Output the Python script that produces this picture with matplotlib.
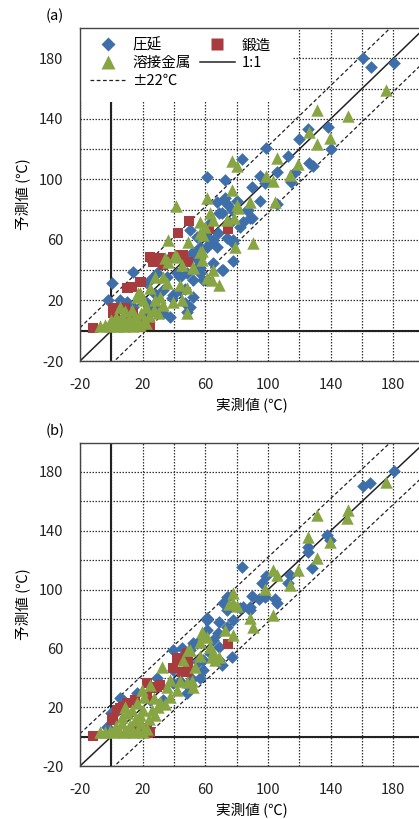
import numpy as np
import matplotlib
matplotlib.use('Agg')
import matplotlib.pyplot as plt
from matplotlib.patches import Rectangle
from matplotlib.lines import Line2D

plt.rcParams['font.family'] = ['Noto Sans CJK JP', 'DejaVu Sans']
plt.rcParams['axes.unicode_minus'] = False

# panel (a) -- 圧延 / 鍛造 / 溶接金属 (measured, predicted)
a_rolled_x = [160.6, 165.7, 180.4, 125.5, 138, 119.8, 140, 99, 113, 126, 128.7, 83.4, 61, 72.5, 95, 98,
              106, 114.6, 89.8, 117, 95, 67.4, 72.5, 74, 77, 80, 86.6, 89.8, 70.6, 63, 84, 50, 54.7, 65,
              74, 77.6, 61, 13.8, 0.4, -2, 5.5, 10, 29, 35.5, 43.8, 52, 56.6, 61, 71, 77.6, 65, 67.4, 52,
              50, 48, 37.4, 33, 26.6, 22.8, 39, 43.8, 33, 22.8, 52, 55, 48, 42, 35.5, 3.6, 7.4, 13.8, 47,
              39.4, 47, 70.6, 75.7, 82, 88.5, 105.7, 87, 69, 68, 61, 63, 56.6, 52, 54.7, 48, 26.6, 58.5,
              56.6, 77.6, 10, 15, 20, 25, 30, 18, 28]
a_rolled_y = [180, 174, 177, 133, 134.6, 127, 120, 121, 115.4, 111, 109, 113.4, 101.5, 99.5, 102, 97.6,
              105, 98, 95, 105, 86, 85, 87.7, 84, 80, 86, 80, 74.5, 77.7, 71, 72, 66.5, 62, 60,
              61, 58, 55, 38.8, 31.5, 20.3, 20.3, 19, 38, 35.5, 35.5, 33.5, 38, 33.5, 40, 46, 44.7, 55, 22,
              15.7, 12.4, 9, 11.7, 15.7, 18, 21.6, 27, 27, 31.5, 52, 46.7, 46.7, 38, 46.7, 15.7, 13.7, 15.7, 18.3,
              23.6, 27.6, 40, 71, 68.5, 74.5, 84, 80, 77.7, 64.5, 62, 58, 55, 51, 42, 38, 35.5, 33.5,
              41.5, 60, 5, 8, 10, 12, 14, 22, 24]
a_forged_x = [49.6, 42.5, 74.5, 62.3, 24.7, 29, 26.6, 39.4, 45.7, 49, 33, 19, 10, 13, 1, 8.7, 2.3, -11.7,
              18.3, 23.4, 17, 5.5, 13.8, 3.6, 10.6, 18.3, 21.5, 24.7, 1, 12, 31, 43.8]
a_forged_y = [72.5, 64.5, 67, 67, 48.7, 46.7, 45.4, 48.7, 50, 45.4, 43.4, 32.2, 28, 29, 15, 15, 10.4, 1.8,
              2.5, 5, 7, 7, 11.7, 15, 28, 32.2, 7, 3.8, 11.7, 9, 48, 50]
a_weld_x = [175, 131, 151, 126, 131, 139.5, 77, 80, 106, 119, 114, 98.7, 103, 77, 61, 88.5, 104.4, 41.3,
            63, 65, 74, 78, 81, 56.6, 60, 36, 49, 58.5, 90.4, 79, 80.2, 56.6, 56.6, 57.8, 52, 45, 36,
            40.6, 35.5, 33, 27.9, 43.8, 48, 24.7, 17, 31, 39.4, 45, 48, 64, 68.7, 61, 65, 57.8, 34, 42,
            52, 18.3, 5.5, 16.4, 20.3,
            -7.2, -4, -1, 2, 4, 6, 8, 10, 12, 14, 16, 18, 20, 22, 0, 3, 7, 11, 15, 9, 13, 19, 24, 27,
            30, 33, 28, 22]
a_weld_y = [159, 145.8, 141.8, 131, 123.3, 127.3, 112, 108.8, 114, 110, 103, 102, 99, 93, 87.6, 85, 85, 82.4,
            77.7, 73, 73, 74.5, 81, 71.8, 68.5, 60, 58.6, 63, 58, 55, 83, 64.5, 52, 46.7, 41.5, 43.4, 45.4,
            50, 31.5, 35.5, 35.5, 30, 28, 28, 25, 22, 19, 20.3, 11.7, 33.5, 30, 34.8, 40, 53, 48, 48.7,
            42, 25, 15.7, 22, 20.3,
            3, 4, 3, 4, 3, 5, 3, 4, 5, 3, 5, 4, 6, 5, 7, 9, 10, 8, 10, 13, 14, 12, 10, 14,
            12, 17, 20, 16]

# panel (b)
b_rolled_x = [180.4, 160.6, 165, 137.6, 139.5, 125.5, 125.5, 128, 83.4, 99, 114, 113, 96, 74.5, 89.8, 94,
              98, 104.4, 106, 84, 88.5, 71.3, 73.8, 74.5, 73.8, 82, 88.5, 61, 69, 77.6, 73.8, 68, 61, 65,
              69, 77, 54.7, 50, 39.4, 45.7, 58.5, 70.6, 61, 63, 52, 45, 58.5, 48, 50, 56.6, 39.4, 29,
              16.4, 5.5, -0.4, 4.3, -2.8, 24.7, 33, 39.4, 44, 51.5, 7.4, 1, 55, 69]
b_rolled_y = [181, 170.5, 172.5, 137, 133.7, 129, 125.6, 114.7, 115.4, 109.3, 110, 104.5, 104.5, 95, 95.6, 93.6,
              95, 93.6, 91, 88, 88, 91, 95, 89.5, 86, 87.5, 86, 79, 78, 79, 74.6, 70.5, 72.5, 65.7,
              61, 54, 63.7, 59, 59, 52, 52, 48.7, 80.7, 57, 64, 60, 45, 30, 33, 40, 45, 40,
              30, 26, 16, 18, 6.5, 25, 25, 36.5, 38, 39, 25, 16, 51, 52]
b_forged_x = [-11.7, 0.4, 3.6, 7.4, 10, 23.4, 22.8, 26, 29, 42, 45, 49, 49, 45, 74.5, 22.8, 15, 12, 1,
              5.5, 22.8, 31, 39.4, 16.4, 24.7, 48]
b_forged_y = [0.4, 11.3, 18, 20, 23, 2.5, 6, 33, 34, 53.5, 52, 50.7, 44, 44, 63, 36.5, 25, 23, 12.6,
              19.5, 27, 35, 47, 6.5, 3, 57]
b_weld_x = [175, 151, 150.4, 131, 125.5, 139.5, 131, 103, 106, 119, 114, 98, 77.6, 77.6, 80, 75, 88.5, 90.4,
            103, 72.5, 77.6, 58.5, 56.6, 63, 64, 66, 49, 45.7, 53.4, 32.3, 61, 58, 65, 69, 56.6, 50,
            37.4, 44, 48, 51.5, 35.5, 42, 52, 37.4, 31, 34, 27, 19.6, 20.3, 16.4, 10, 6.8,
            -7, -4, -1, 2, 5, 8, 11, 14, 17, 20, 23, 3, 7, 12, 15, 19, 24, 28, 9, 13, 18, 26,
            30, 21, 25]
b_weld_y = [173, 154, 148.7, 150.7, 135.8, 132.4, 121.5, 113.3, 110, 113.3, 103, 100.4, 97.7, 91, 89, 90, 80.7, 74.6,
            82.7, 72.5, 69, 69, 64.4, 61, 54, 52, 59, 52, 47.3, 47.3, 67.8, 71, 57.5, 54, 55, 59,
            38.5, 38, 37, 38, 33.7, 31.7, 33.7, 27, 23.5, 22, 26, 31.7, 18, 23, 16, 13.3,
            3, 3, 4, 3, 4, 3, 5, 3, 4, 3, 5, 7, 9, 8, 11, 9, 12, 15, 20, 18, 15, 18,
            20, 27, 35]

ticks = [-20, 20, 60, 100, 140, 180]
band = 22

c_blue = '#3f6faa'
c_red = '#a83b3e'
c_green = '#88a544'
fs = 10.5


def draw_panel(ax, rolled, forged, weld, label, with_legend=False):
    ax.set_xlim(-20, 200)
    ax.set_ylim(-20, 200)
    ax.set_xticks(ticks)
    ax.set_yticks(ticks)
    ax.set_xticks(np.arange(0, 200, 40), minor=True)
    ax.set_yticks(np.arange(0, 200, 40), minor=True)
    ax.tick_params(which='both', length=0, labelsize=fs, pad=12, colors='#222222')
    ax.grid(which='both', linestyle=(0, (1.2, 1.2)), color='#333333', linewidth=0.9)
    ax.set_axisbelow(True)
    for s in ax.spines.values():
        s.set_color('#444444')
        s.set_linewidth(1.0)

    ax.axvline(0, color='#222222', lw=1.5, zorder=1.2)
    ax.axhline(0, color='#222222', lw=1.5, zorder=1.2)
    xs = np.array([-20, 200])
    ax.plot(xs, xs, color='#222222', lw=1.1, zorder=1.3)
    ax.plot(xs, xs + band, color='#222222', lw=0.9, ls=(0, (3, 2)), zorder=1.3)
    ax.plot(xs, xs - band, color='#222222', lw=0.9, ls=(0, (3, 2)), zorder=1.3)

    ax.scatter(rolled[0], rolled[1], marker='D', s=42, color=c_blue, lw=0, zorder=3)
    ax.scatter(forged[0], forged[1], marker='s', s=60, color=c_red, lw=0, zorder=3.1)
    ax.scatter(weld[0], weld[1], marker='^', s=80, color=c_green, lw=0, zorder=3.2)

    ax.set_xlabel('実測値 (℃)', fontsize=fs, labelpad=4)
    ax.set_ylabel('予測値 (℃)', fontsize=fs, labelpad=6)
    ax.text(-0.10, 1.015, label, transform=ax.transAxes, fontsize=fs, ha='left', va='bottom')

    if with_legend:
        ax.add_patch(Rectangle((-20, 151), 135, 49, facecolor='white', edgecolor='none', zorder=1.5))
        handles = [
            Line2D([], [], marker='D', ls='none', color=c_blue, mec='none', ms=7),
            Line2D([], [], marker='^', ls='none', color=c_green, mec='none', ms=10),
            Line2D([], [], color='#222222', lw=0.9, ls=(0, (3, 2))),
            Line2D([], [], marker='s', ls='none', color=c_red, mec='none', ms=8),
            Line2D([], [], color='#222222', lw=1.1),
        ]
        names = ['圧延', '溶接金属', '±22℃', '鍛造', '1:1']
        ax.legend(handles, names, ncol=2, frameon=False, fontsize=fs, loc='upper left',
                  bbox_to_anchor=(0.0, 1.0), handlelength=2.4, columnspacing=0.6,
                  labelspacing=0.25, handletextpad=0.5, borderaxespad=0.3)


fig = plt.figure(figsize=(4.19, 8.19), dpi=100)
ax1 = fig.add_axes([0.1909, 0.5592, 0.8227, 0.4066])
ax2 = fig.add_axes([0.1909, 0.0647, 0.8227, 0.3949])
draw_panel(ax1, (a_rolled_x, a_rolled_y), (a_forged_x, a_forged_y), (a_weld_x, a_weld_y), '(a)', True)
draw_panel(ax2, (b_rolled_x, b_rolled_y), (b_forged_x, b_forged_y), (b_weld_x, b_weld_y), '(b)')
fig.savefig('out.png', dpi=100)
